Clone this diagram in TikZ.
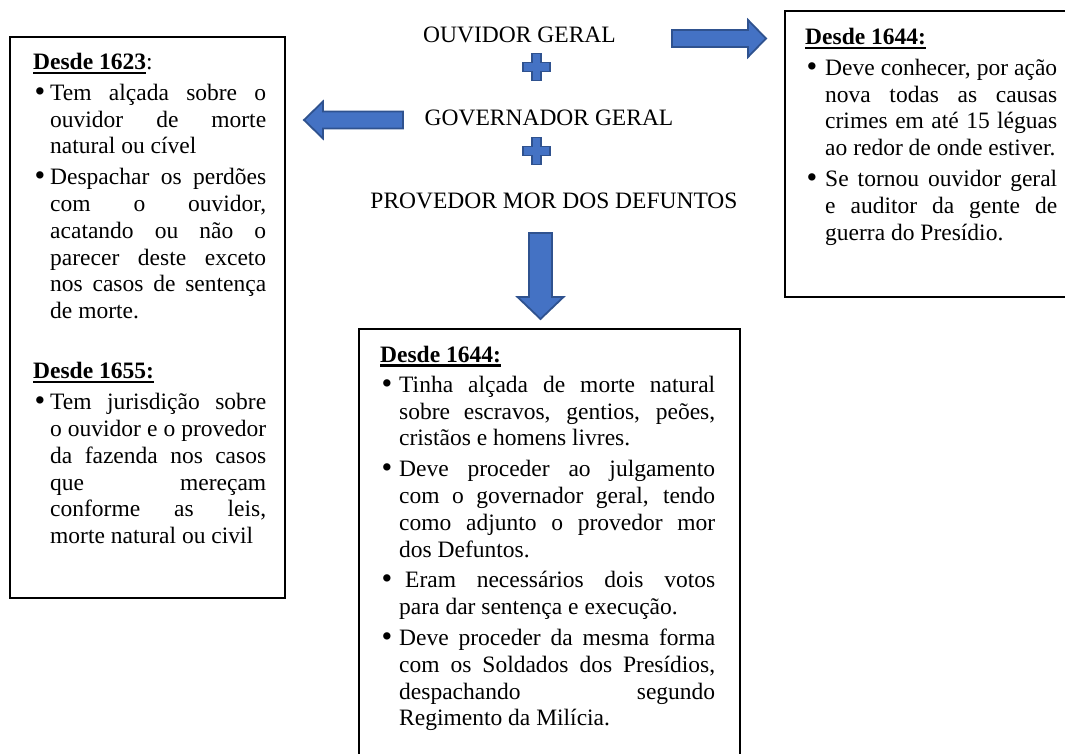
\documentclass[tikz,border=0pt]{standalone}
\usepackage{fontspec}
\setmainfont{Liberation Serif}
\definecolor{shapefill}{HTML}{4472C4}
\definecolor{shapeline}{HTML}{2F528F}

% layout helpers for the bulleted, justified text columns
\newlength\hng   % indent of item text after the bullet
\newlength\colw  % width of the item text column
\hbadness=10000
\newcommand\hd[1]{\setbox0=\hbox{#1}\rlap{\rule[-4.5pt]{\wd0}{2.2pt}}\box0}
\newcommand\headline[1]{\hbox{#1}}
\newcommand\bigbullet{\raisebox{-0.9pt}{\scalebox{1.3}{\textbullet}}}
\newcommand\bulJ[1]{\hbox{\hbox to\hng{\hskip1.5pt\bigbullet\hss}\hbox to\colw{#1}}}
\newcommand\bulR[1]{\hbox{\hbox to\hng{\hskip1.5pt\bigbullet\hss}#1}}
\newcommand\conJ[1]{\hbox{\hskip\hng\hbox to\colw{#1}}}
\newcommand\conR[1]{\hbox{\hskip\hng #1}}
\newcommand\itemgap{\vskip4pt}
\newcommand\headgap{\vskip3.5pt}

\tikzset{
  framebox/.style={draw=black, line width=2pt},
  bluebody/.style={fill=shapefill, draw=shapeline, line width=1.8pt, line join=miter},
  title/.style={anchor=base, inner sep=0pt, font=\fontsize{23.5}{27}\selectfont},
  content/.style={anchor=base west, inner sep=0pt, font=\fontsize{23.5}{26.8}\selectfont},
}

\begin{document}
\begin{tikzpicture}[x=1pt, y=-1pt]
\useasboundingbox (0,0) rectangle (1065,754);
\fill[white] (0,0) rectangle (1065,754);
\clip (0,0) rectangle (1065,754);

% frames
\draw[framebox] (10,37) rectangle (285,598);
\draw[framebox] (785,11) rectangle (1075,297);
\draw[framebox] (359,329) rectangle (740,770);

% central titles
\node[title] (ouvidor) at (519.5,43) {OUVIDOR GERAL};
\node[title] (governador) at (549,126) {GOVERNADOR GERAL};
\node[title] (provedor) at (554,208) {PROVEDOR MOR DOS DEFUNTOS};

% plus signs
\foreach \py/\nm in {67/plusA, 151/plusB}{
  \coordinate (\nm) at (536.5,\py);
  \draw[bluebody] ([shift={(-4.5,-13.5)}]\nm) -- ++(9,0) -- ++(0,9) -- ++(9,0) -- ++(0,9)
    -- ++(-9,0) -- ++(0,9) -- ++(-9,0) -- ++(0,-9) -- ++(-9,0) -- ++(0,-9) -- ++(9,0) -- cycle;
}

% block arrows
\coordinate (leftTip) at (304,120);
\draw[bluebody] (leftTip) -- ++(19,-18.5) -- ++(0,10) -- ++(80,0) -- ++(0,17) -- ++(-80,0)
  -- ++(0,10) -- cycle;
\coordinate (rightTip) at (766,38.5);
\draw[bluebody] (rightTip) -- ++(-18,-18.5) -- ++(0,10) -- ++(-76,0) -- ++(0,17) -- ++(76,0)
  -- ++(0,10) -- cycle;
\coordinate (downTip) at (540.5,319);
\draw[bluebody] (downTip) -- ++(-23,-22) -- ++(11.5,0) -- ++(0,-64) -- ++(23,0) -- ++(0,64)
  -- ++(11.5,0) -- cycle;

% left column
\node[content] (leftText) at (33,70) {\setlength\hng{17pt}\setlength\colw{216pt}%
\vtop{\hsize=235pt
\headline{\hd{\textbf{Desde 1623}}:}
\headgap
\bulJ{Tem alçada sobre o}
\conJ{ouvidor de morte}
\conR{natural ou cível}
\itemgap
\bulJ{Despachar os perdões}
\conJ{com o ouvidor,}
\conJ{acatando ou não o}
\conJ{parecer deste exceto}
\conJ{nos casos de sentença}
\conR{de morte.}
\vskip33.2pt
\headline{\hd{\textbf{Desde 1655:}}}
\vskip4.2pt
\bulJ{Tem jurisdição sobre}
\conJ{o ouvidor e o provedor}
\conJ{da fazenda nos casos}
\conJ{que mereçam}
\conJ{conforme as leis,}
\conR{morte natural ou civil}
}};

% right column
\node[content] (rightText) at (805,45) {\setlength\hng{20pt}\setlength\colw{232pt}%
\vtop{\hsize=252pt
\headline{\hd{\textbf{Desde 1644:}}}
\headgap
\bulJ{Deve conhecer, por ação}
\conJ{nova todas as causas}
\conJ{crimes em até 15 léguas}
\conR{ao redor de onde estiver.}
\itemgap
\bulJ{Se tornou ouvidor geral}
\conJ{e auditor da gente de}
\conR{guerra do Presídio.}
}};

% lower column
\node[content] (lowerText) at (380,362) {\setlength\hng{19pt}\setlength\colw{316pt}%
\vtop{\hsize=335pt
\headline{\hd{\textbf{Desde 1644:}}}
\headgap
\bulJ{Tinha alçada de morte natural}
\conJ{sobre escravos, gentios, peões,}
\conR{cristãos e homens livres.}
\itemgap
\bulJ{Deve proceder ao julgamento}
\conJ{com o governador geral, tendo}
\conJ{como adjunto o provedor mor}
\conR{dos Defuntos.}
\itemgap
\bulJ{\hskip6pt Eram necessários dois votos}
\conR{para dar sentença e execução.}
\itemgap
\bulJ{Deve proceder da mesma forma}
\conJ{com os Soldados dos Presídios,}
\conJ{despachando segundo}
\conR{Regimento da Milícia.}
}};
\end{tikzpicture}
\end{document}
